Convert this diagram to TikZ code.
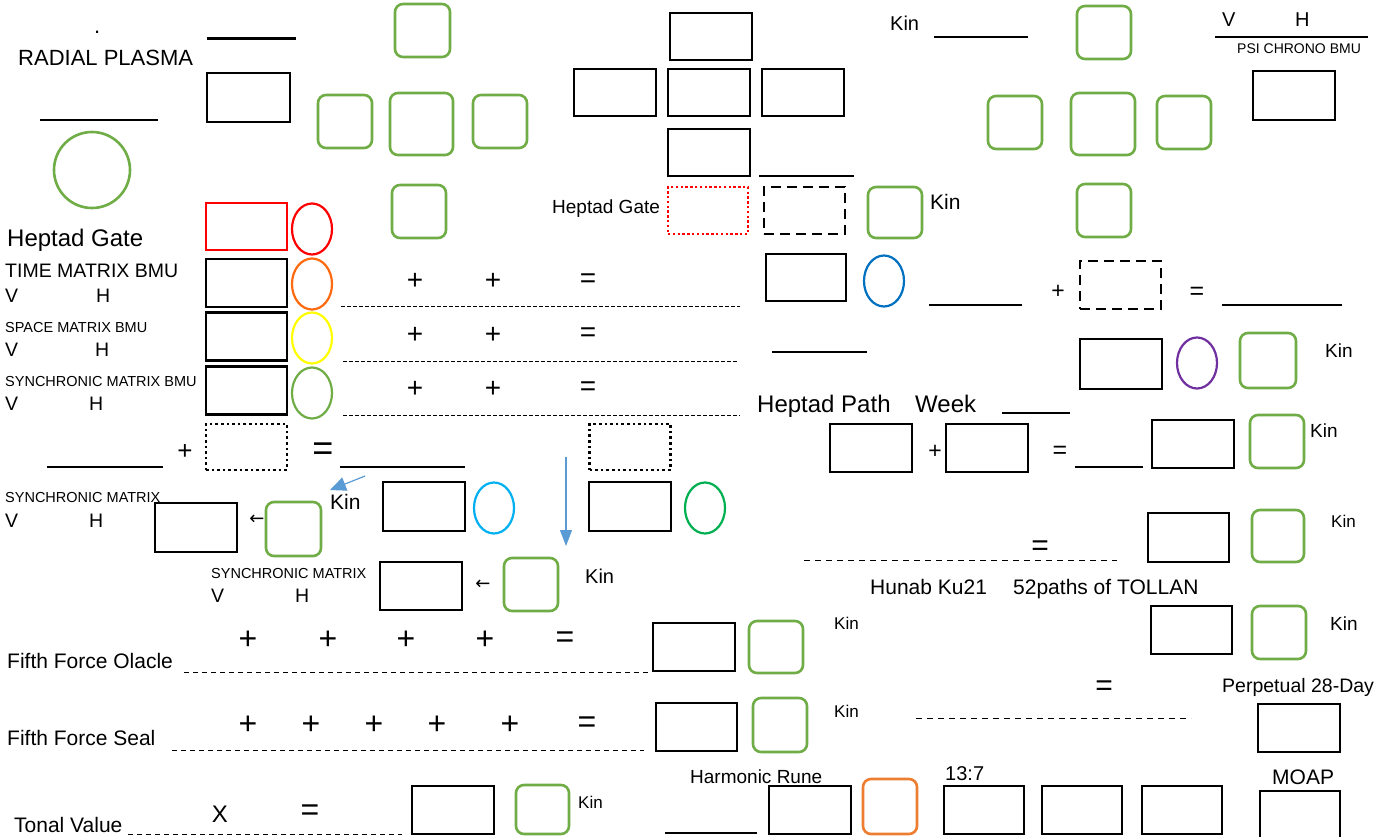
\documentclass[tikz,border=0pt]{standalone}
\usepackage{fontspec}
\setmainfont{Liberation Sans}
\newfontfamily\arrowfont{DejaVu Sans}
\usetikzlibrary{shapes.geometric,arrows.meta}
\definecolor{kingreen}{HTML}{70AD47}
\definecolor{ovalorange}{HTML}{FF6A10}
\definecolor{runeorange}{HTML}{ED7D31}
\definecolor{ovalyellow}{HTML}{FFFF00}
\definecolor{ovalblue}{HTML}{0070C0}
\definecolor{ovalcyan}{HTML}{00B0F0}
\definecolor{ovalgreen}{HTML}{00B050}
\definecolor{ovalpurple}{HTML}{7030A0}
\definecolor{arrowblue}{HTML}{5B9BD5}
\newcommand{\sz}[1]{\fontsize{#1}{#1}\selectfont}

\begin{document}
\begin{tikzpicture}[x=1pt, y=-1pt,
  box/.style={draw, line width=2.6pt, minimum width=81pt, minimum height=48pt, inner sep=0pt},
  kinbox/.style={draw=kingreen, line width=2.6pt, rounded corners=8pt, minimum width=54pt, minimum height=53pt, inner sep=0pt},
  oval/.style={ellipse, draw, line width=2.2pt, minimum width=40pt, minimum height=51pt, inner sep=0pt},
  txt/.style={anchor=base west, inner sep=0pt},
  sym/.style={inner sep=0pt},
  blank/.style={line width=1.2pt},
  dotline/.style={line width=1pt, dash pattern=on 4pt off 2pt}]
  \useasboundingbox (0,0) rectangle (1400,836);
  \fill[white] (0,0) rectangle (1400,836);

  %Radial plasma
  \node[txt, font=\sz{22}] (dot) at (94,33) {.};
  \node[txt, font=\sz{22}] (radial) at (18,65) {RADIAL PLASMA};
  \draw[blank] (40,120) -- (158,120);
  \node[circle, draw=kingreen, line width=2.6pt, minimum size=76pt, inner sep=0pt] (plasma) at (92,170) {};
  \draw[line width=3pt] (207,38) -- (296,38);
  \node[box, minimum width=83pt, minimum height=49pt] (radialbox) at (248.5,97.5) {};

  %Green cross left
  \node[kinbox, minimum width=55pt] (kintop) at (422.5,30.5) {};
  \node[kinbox] (kinleft) at (345,121.5) {};
  \node[kinbox, minimum width=63pt, minimum height=62pt] (kinmid) at (421.5,124) {};
  \node[kinbox] (kinright) at (500,121.5) {};
  \node[kinbox] (kinbottom) at (419,211.5) {};

  %BMU column
  \node[txt, font=\sz{24}] (gatelbl) at (7,246) {Heptad Gate};
  \node[box, draw=red, minimum height=47pt] (gatebox) at (246.5,226.5) {};
  \node[oval, draw=red] (gateoval) at (312,229) {};
  \node[txt, font=\sz{19.5}] (timelbl) at (5,277) {TIME MATRIX BMU};
  \node[txt, font=\sz{19.5}] (timev) at (5,302) {V};
  \node[txt, font=\sz{19.5}] (timeh) at (96,302) {H};
  \node[box] (timebox) at (246.5,283) {};
  \node[oval, draw=ovalorange] (timeoval) at (312,284) {};
  \node[txt, font=\sz{14.5}] (spacelbl) at (5,332) {SPACE MATRIX BMU};
  \node[txt, font=\sz{19.5}] (spacev) at (5,356) {V};
  \node[txt, font=\sz{19.5}] (spaceh) at (95,356) {H};
  \node[box] (spacebox) at (246.5,336.5) {};
  \node[oval, draw=ovalyellow] (spaceoval) at (312,338) {};
  \node[txt, font=\sz{14.5}] (synclbl) at (5,386) {SYNCHRONIC MATRIX BMU};
  \node[txt, font=\sz{19.5}] (syncv) at (5,410) {V};
  \node[txt, font=\sz{19.5}] (synch) at (89,410) {H};
  \node[box] (syncbox) at (246.5,390.5) {};
  \node[oval, draw=kingreen] (syncoval) at (312,393) {};

  %Sums of the three matrices
  \foreach \row/\yy in {time/281, space/335, sync/389}{
    \node[sym, font=\sz{28}] (\row plusa) at (415,\yy) {+};
    \node[sym, font=\sz{28}] (\row plusb) at (493,\yy) {+};
    \node[sym, font=\sz{28}] (\row eq) at (588,\yy) {=};
  }
  \draw[dotline] (341,306) -- (740,306);
  \draw[dotline] (343,361) -- (738,361);
  \draw[dotline] (343,415) -- (740,415);

  %Dotted sum
  \draw[blank] (47,467) -- (163,467);
  \node[sym, font=\sz{26}] (dotplus) at (185,452) {+};
  \node[box, draw=black, line width=2.6pt, dash pattern=on 2.6pt off 3pt, minimum height=46pt] (dotbox) at (246.5,447) {};
  \node[sym, font=\sz{36}] (doteq) at (323,452) {=};
  \draw[blank] (340,467) -- (465,467);
  \node[box, line width=2.6pt, dash pattern=on 2.6pt off 3pt, minimum height=46pt] (dotboxb) at (630,447) {};

  %Black cross
  \node[box, minimum width=82pt, minimum height=47pt] (crosstop) at (711,36.5) {};
  \node[box, minimum width=82pt, minimum height=47pt] (crossleft) at (615,92.5) {};
  \node[box, minimum width=82pt, minimum height=47pt] (crossmid) at (709,92.5) {};
  \node[box, minimum width=82pt, minimum height=47pt] (crossright) at (803,92.5) {};
  \node[box, minimum width=82pt, minimum height=47pt] (crossbottom) at (709,152.5) {};
  \draw[blank] (759,176) -- (854,176);
  \node[txt, font=\sz{19}] (gatelblb) at (552,213) {Heptad Gate};
  \node[box, draw=red, line width=2.4pt, dash pattern=on 2.4pt off 2.4pt, minimum width=80pt, minimum height=47pt] (gatedot) at (708,210.5) {};
  \node[box, line width=2.6pt, dash pattern=on 10pt off 6pt, minimum height=47pt] (gatedash) at (804.5,210.5) {};
  \node[kinbox, minimum height=51pt] (gatekin) at (895,212.5) {};
  \node[txt, font=\sz{21}] (gatekinlbl) at (930,209) {Kin};

  %Green cross right
  \node[txt, font=\sz{20}] (kinlbltop) at (890,30) {Kin};
  \draw[blank] (934,37) -- (1028,37);
  \node[kinbox] (rkintop) at (1104,32.5) {};
  \node[kinbox] (rkinleft) at (1015,122.5) {};
  \node[kinbox, minimum width=64pt, minimum height=62pt] (rkinmid) at (1103,124) {};
  \node[kinbox] (rkinright) at (1184,122.5) {};
  \node[kinbox] (rkinbottom) at (1104,210.5) {};

  %PSI chrono
  \node[txt, font=\sz{20}] (psiv) at (1222,26) {V};
  \node[txt, font=\sz{20}] (psih) at (1295,26) {H};
  \draw[blank] (1215,37) -- (1368,37);
  \node[txt, font=\sz{14}] (psilbl) at (1237,53) {PSI CHRONO BMU};
  \node[box, minimum width=82pt, minimum height=49pt] (psibox) at (1294,95.5) {};

  %Blue oval row
  \node[box, minimum width=80pt, minimum height=47pt] (bluebox) at (806,277.5) {};
  \node[oval, draw=ovalblue] (blueoval) at (884,281) {};
  \draw[blank] (929,305) -- (1022,305);
  \node[sym, font=\sz{23}] (blueplus) at (1058,292) {+};
  \node[box, line width=2.6pt, dash pattern=on 10pt off 6pt] (bluedash) at (1120.5,285) {};
  \node[sym, font=\sz{25}] (blueeq) at (1197,293) {=};
  \draw[blank] (1222,305) -- (1342,305);
  \draw[blank] (772,352) -- (867,352);

  %Purple oval row
  \node[box, minimum width=82pt, minimum height=50pt] (purplebox) at (1121,364) {};
  \node[oval, draw=ovalpurple] (purpleoval) at (1197,363) {};
  \node[kinbox, minimum width=56pt, minimum height=55pt] (purplekin) at (1268,360.5) {};
  \node[txt, font=\sz{19}] (purplekinlbl) at (1325,357) {Kin};

  %Heptad path
  \node[txt, font=\sz{24}] (pathlbl) at (757,412) {Heptad Path};
  \node[txt, font=\sz{24}] (weeklbl) at (915,412) {Week};
  \draw[blank] (1002,413) -- (1070,413);
  \node[box, minimum width=82pt] (patha) at (871,448) {};
  \node[sym, font=\sz{23}] (pathplus) at (935,452) {+};
  \node[box, minimum width=82pt] (pathb) at (987,448) {};
  \node[sym, font=\sz{25}] (patheq) at (1060,452) {=};
  \draw[blank] (1075,467) -- (1143,467);
  \node[box, minimum width=82pt] (pathbox) at (1193,444) {};
  \node[kinbox] (pathkin) at (1277,441.5) {};
  \node[txt, font=\sz{19}] (pathkinlbl) at (1310,437) {Kin};

  %Arrows
  \coordinate (diagstart) at (365,476);
  \coordinate (diagend) at (330,490);
  \draw[arrowblue, line width=1.2pt, -{Triangle[length=16pt, width=14pt]}] (diagstart) -- (diagend);
  \coordinate (downstart) at (566,457);
  \coordinate (downend) at (566,546);
  \draw[arrowblue, line width=1.2pt, -{Triangle[length=16pt, width=12pt]}] (downstart) -- (downend);

  %Cyan and green ovals
  \node[txt, font=\sz{21}] (cyankinlbl) at (330,509) {Kin};
  \node[box, minimum width=82pt, minimum height=49pt] (cyanbox) at (424,506.5) {};
  \node[oval, draw=ovalcyan] (cyanoval) at (494,508) {};
  \node[box, minimum width=82pt, minimum height=49pt] (greenbox) at (630,506.5) {};
  \node[oval, draw=ovalgreen] (greenoval) at (705,508) {};

  %Synchronic matrix
  \node[txt, font=\sz{14.5}] (smlbl) at (5,502) {SYNCHRONIC MATRIX};
  \node[txt, font=\sz{19.5}] (smv) at (5,527) {V};
  \node[txt, font=\sz{19.5}] (smh) at (89,527) {H};
  \node[box, minimum width=82pt, minimum height=49pt] (smbox) at (196,527.5) {};
  \node[sym, font=\arrowfont\sz{18}] (smarrow) at (257,520) {←};
  \node[kinbox, minimum width=55pt, minimum height=54pt] (smkin) at (293.5,529) {};
  \node[txt, font=\sz{14.5}] (smlblb) at (211,578) {SYNCHRONIC MATRIX};
  \node[txt, font=\sz{19.5}] (smvb) at (211,602) {V};
  \node[txt, font=\sz{19.5}] (smhb) at (295,602) {H};
  \node[box, minimum width=82pt] (smboxb) at (421,586) {};
  \node[sym, font=\arrowfont\sz{18}] (smarrowb) at (483,585) {←};
  \node[kinbox] (smkinb) at (531,584.5) {};
  \node[txt, font=\sz{20}] (smkinlbl) at (585,583) {Kin};

  %Hunab Ku
  \node[sym, font=\sz{30}] (hunabeq) at (1040,548) {=};
  \draw[dash pattern=on 6pt off 5pt, line width=1pt] (804,560) -- (1117,560);
  \node[txt, font=\sz{21}] (hunablbl) at (870,594) {Hunab Ku21};
  \node[txt, font=\sz{21}] (tollanlbl) at (1013,594) {52paths of TOLLAN};
  \node[box, minimum width=81pt, minimum height=49pt] (hunabbox) at (1188.5,537.5) {};
  \node[kinbox, minimum width=52pt, minimum height=52pt] (hunabkin) at (1278,536) {};
  \node[txt, font=\sz{17}] (hunabkinlbl) at (1331,527) {Kin};
  \node[box, minimum width=81pt] (tollanbox) at (1191.5,630) {};
  \node[kinbox] (tollankin) at (1279,632.5) {};
  \node[txt, font=\sz{19}] (tollankinlbl) at (1330,630) {Kin};

  %Perpetual
  \node[sym, font=\sz{30}] (perpeq) at (1104,688) {=};
  \draw[dash pattern=on 6pt off 5pt, line width=1pt] (916,718) -- (1191,718);
  \node[txt, font=\sz{19.5}] (perplbl) at (1222,692) {Perpetual 28-Day};
  \node[box, minimum width=82pt] (perpbox) at (1299,728) {};

  %Fifth force
  \node[txt, font=\sz{21}] (oraclelbl) at (7,668) {Fifth Force Olacle};
  \draw[dash pattern=on 5pt off 4pt, line width=1pt] (184,672) -- (648,672);
  \foreach \xx [count=\i] in {248,328,406,485}
    \node[sym, font=\sz{32}] (oracleplus\i) at (\xx,640) {+};
  \node[sym, font=\sz{32}] (oracleeq) at (565,640) {=};
  \node[box, minimum width=82pt] (oraclebox) at (694,647) {};
  \node[kinbox, minimum height=52pt] (oraclekin) at (776,647) {};
  \node[txt, font=\sz{17}] (oraclekinlbl) at (834,629) {Kin};
  \node[txt, font=\sz{21}] (seallbl) at (7,745) {Fifth Force Seal};
  \draw[dash pattern=on 5pt off 4pt, line width=1pt] (172,750) -- (644,750);
  \foreach \xx [count=\i] in {248,311,374,437,510}
    \node[sym, font=\sz{32}] (sealplus\i) at (\xx,725) {+};
  \node[sym, font=\sz{32}] (sealeq) at (587,725) {=};
  \node[box, minimum width=81pt] (sealbox) at (696.5,727) {};
  \node[kinbox, minimum height=54pt] (sealkin) at (780,725) {};
  \node[txt, font=\sz{17}] (sealkinlbl) at (834,717) {Kin};

  %Tonal value
  \node[txt, font=\sz{21}] (tonallbl) at (14,832) {Tonal Value};
  \draw[dash pattern=on 5pt off 4pt, line width=1pt] (128,834) -- (402,834);
  \node[sym, font=\sz{24}] (tonalx) at (220,814) {X};
  \node[sym, font=\sz{32}] (tonaleq) at (310,813) {=};
  \node[box, minimum width=82pt] (tonalbox) at (453,810) {};
  \node[kinbox, minimum width=53pt, minimum height=49pt] (tonalkin) at (542.5,809.5) {};
  \node[txt, font=\sz{17}] (tonalkinlbl) at (578,808) {Kin};

  %Harmonic rune and 13:7
  \node[txt, font=\sz{19}] (runelbl) at (690,783) {Harmonic Rune};
  \draw[blank] (665,833) -- (757,833);
  \node[box, minimum width=82pt] (runebox) at (810,810) {};
  \node[kinbox, draw=runeorange, minimum height=55pt] (runekin) at (890,806.5) {};
  \node[txt, font=\sz{20}] (ratiolbl) at (945,780) {13:7};
  \foreach \xx [count=\i] in {984,1082,1182}
    \node[box, minimum width=80pt] (ratiobox\i) at (\xx,810) {};
  \node[txt, font=\sz{21}] (moaplbl) at (1272,784) {MOAP};
  \node[box, minimum width=80pt] (moapbox) at (1300,815) {};
\end{tikzpicture}
\end{document}
